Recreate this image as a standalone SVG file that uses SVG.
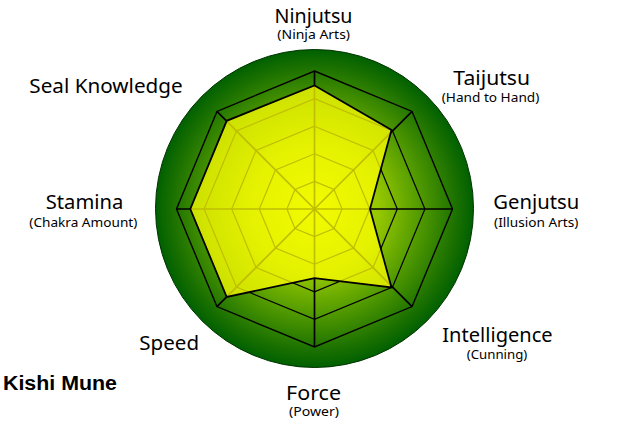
<svg xmlns="http://www.w3.org/2000/svg" width="634" height="424" viewBox="0 0 634 424">
<defs>
<radialGradient id="bg" cx="314.5" cy="208.5" r="159" gradientUnits="userSpaceOnUse">
<stop offset="0" stop-color="#ccee00"/>
<stop offset="0.4" stop-color="#96c800"/>
<stop offset="0.63" stop-color="#5aa000"/>
<stop offset="0.88" stop-color="#1e7300"/>
<stop offset="1" stop-color="#006000"/>
</radialGradient>
<style>
.grid{fill:none;stroke:#000;stroke-width:1.2;stroke-linejoin:miter}
.outer{fill:none;stroke:#000;stroke-width:1.4}
.axis{stroke:#000;stroke-width:1.7}
.data{fill:#ffff00;fill-opacity:0.75;stroke:#000;stroke-width:1.8;stroke-linejoin:miter}
.t{font-family:"Noto Sans","DejaVu Sans",sans-serif;font-size:20px;fill:#000;text-anchor:middle}
.s{font-family:"Noto Sans","DejaVu Sans",sans-serif;font-size:13px;fill:#000;text-anchor:middle}
.name{font-family:"Liberation Sans",Arial,sans-serif;font-size:20px;font-weight:bold;fill:#000}
</style>
</defs>
<rect width="634" height="424" fill="#fff"/>
<g id="background">
<circle cx="314.5" cy="208.5" r="159" fill="url(#bg)" stroke="#003300" stroke-width="1"/>
</g>
<g id="grid">
<polygon class="grid" points="314.5,181.4 334.02,189.48 342.1,209 334.02,228.52 314.5,236.6 294.98,228.52 286.9,209 294.98,189.48"/>
<polygon class="grid" points="314.5,153.8 353.53,169.97 369.7,209 353.53,248.03 314.5,264.2 275.47,248.03 259.3,209 275.47,169.97"/>
<polygon class="grid" points="314.5,126.2 373.05,150.45 397.3,209 373.05,267.55 314.5,291.8 255.95,267.55 231.7,209 255.95,150.45"/>
<polygon class="grid" points="314.5,98.6 392.56,130.94 424.9,209 392.56,287.06 314.5,319.4 236.44,287.06 204.1,209 236.44,130.94"/>
<polygon class="outer" points="314.5,71 412.08,111.42 452.5,209 412.08,306.58 314.5,347 216.92,306.58 176.5,209 216.92,111.42"/>
</g>
<g id="connectors">
<line class="axis" x1="314.5" y1="209" x2="314.5" y2="71"/>
<line class="axis" x1="314.5" y1="209" x2="412.08" y2="111.42"/>
<line class="axis" x1="314.5" y1="209" x2="452.5" y2="209"/>
<line class="axis" x1="314.5" y1="209" x2="412.08" y2="306.58"/>
<line class="axis" x1="314.5" y1="209" x2="314.5" y2="347"/>
<line class="axis" x1="314.5" y1="209" x2="216.92" y2="306.58"/>
<line class="axis" x1="314.5" y1="209" x2="176.5" y2="209"/>
<line class="axis" x1="314.5" y1="209" x2="216.92" y2="111.42"/>
</g>
<g id="data">
<polygon class="data" points="314.5,85.5 391.5,130 370,209 391.5,287.5 314.5,278.2 226.7,297 190.3,209 226.7,120.8"/>
</g>
<g id="label-ninjutsu"><text class="t" x="313.5" y="22.5" textLength="78" lengthAdjust="spacingAndGlyphs">Ninjutsu</text><text class="s" x="313.7" y="39" textLength="72.7" lengthAdjust="spacingAndGlyphs">(Ninja Arts)</text></g>
<g id="label-taijutsu"><text class="t" x="491.7" y="85" textLength="76.7" lengthAdjust="spacingAndGlyphs">Taijutsu</text><text class="s" x="490.5" y="102" textLength="97.6" lengthAdjust="spacingAndGlyphs">(Hand to Hand)</text></g>
<g id="label-genjutsu"><text class="t" x="536.3" y="209" textLength="86" lengthAdjust="spacingAndGlyphs">Genjutsu</text><text class="s" x="536.2" y="226.5" textLength="84.3" lengthAdjust="spacingAndGlyphs">(Illusion Arts)</text></g>
<g id="label-intelligence"><text class="t" x="497.5" y="341.7" textLength="110.4" lengthAdjust="spacingAndGlyphs">Intelligence</text><text class="s" x="497" y="358.5" textLength="60.6" lengthAdjust="spacingAndGlyphs">(Cunning)</text></g>
<g id="label-force"><text class="t" x="313.5" y="400" textLength="55" lengthAdjust="spacingAndGlyphs">Force</text><text class="s" x="314" y="415.5" textLength="50" lengthAdjust="spacingAndGlyphs">(Power)</text></g>
<g id="label-speed"><text class="t" x="169.2" y="350" textLength="59.7" lengthAdjust="spacingAndGlyphs">Speed</text></g>
<g id="label-stamina"><text class="t" x="84.5" y="209" textLength="77.6" lengthAdjust="spacingAndGlyphs">Stamina</text><text class="s" x="83.3" y="226.5" textLength="108" lengthAdjust="spacingAndGlyphs">(Chakra Amount)</text></g>
<g id="label-seal"><text class="t" x="106" y="93" textLength="153.4" lengthAdjust="spacingAndGlyphs">Seal Knowledge</text></g>
<g id="label-name"><text class="name" x="3" y="390" textLength="114" lengthAdjust="spacingAndGlyphs">Kishi Mune</text></g>
</svg>
